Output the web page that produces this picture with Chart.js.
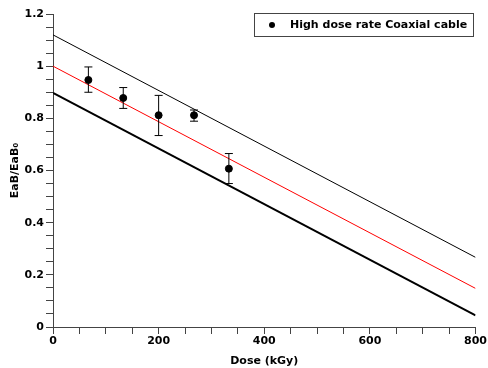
<!DOCTYPE html>
<html>
<head>
<meta charset="utf-8">
<script src="https://cdn.jsdelivr.net/npm/chart.js@4/dist/chart.umd.min.js"></script>
<style>
html,body{margin:0;padding:0;background:#fff;}
#wrap{width:488px;height:368px;}
</style>
</head>
<body>
<div id="wrap"><canvas id="c" width="488" height="368"></canvas></div>
<script>
// Data
const doses = [67, 133, 200, 267, 333];
const ratio = [0.947, 0.878, 0.812, 0.812, 0.607];
const errLow = [0.900, 0.838, 0.734, 0.789, 0.550];
const errHigh = [0.997, 0.918, 0.888, 0.832, 0.665];
const lineX = [0, 800];
const fitLine = [1.0, 0.148];
const upperLine = [1.12, 0.267];
const lowerLine = [0.898, 0.045];
const seriesLabel = 'High dose rate Coaxial cable';
const xTitle = 'Dose (kGy)';
const yTitle = 'EaB/EaB\u2080';

const FONT = "'DejaVu Sans', Verdana, sans-serif";

const pts = doses.map((d, i) => ({x: d, y: ratio[i]}));
const mk = (ys) => lineX.map((x, i) => ({x: x, y: ys[i]}));

const errorBars = {
  id: 'errorBars',
  afterDatasetsDraw(chart) {
    const {ctx, scales: {x, y}} = chart;
    ctx.save();
    ctx.strokeStyle = '#000';
    ctx.lineWidth = 1;
    doses.forEach((d, i) => {
      const px = x.getPixelForValue(d);
      const pl = y.getPixelForValue(errLow[i]);
      const ph = y.getPixelForValue(errHigh[i]);
      ctx.beginPath();
      ctx.moveTo(px, pl); ctx.lineTo(px, ph);
      ctx.moveTo(px - 4, pl); ctx.lineTo(px + 4, pl);
      ctx.moveTo(px - 4, ph); ctx.lineTo(px + 4, ph);
      ctx.stroke();
    });
    ctx.restore();
  }
};

const legendBox = {
  id: 'legendBox',
  afterDraw(chart) {
    const ctx = chart.ctx;
    ctx.save();
    ctx.fillStyle = '#fff';
    ctx.fillRect(254.5, 13.5, 219, 23);
    ctx.strokeStyle = '#444';
    ctx.lineWidth = 1;
    ctx.strokeRect(254.5, 13.5, 219, 23);
    ctx.fillStyle = '#000';
    ctx.beginPath();
    ctx.arc(272, 25, 3, 0, Math.PI * 2);
    ctx.fill();
    ctx.font = 'bold 11px ' + FONT;
    ctx.textBaseline = 'middle';
    ctx.textAlign = 'left';
    ctx.fillText(seriesLabel, 290, 25.5);
    ctx.restore();
  }
};

new Chart(document.getElementById('c'), {
  type: 'scatter',
  data: {
    datasets: [
      {label: seriesLabel, data: pts, backgroundColor: '#000', borderColor: '#000', pointRadius: 3.5, pointHoverRadius: 3.5, order: 0},
      {type: 'line', label: 'fit', data: mk(fitLine), borderColor: '#ff0000', borderWidth: 1, pointRadius: 0, fill: false, order: 1},
      {type: 'line', label: 'upper', data: mk(upperLine), borderColor: '#000', borderWidth: 1, pointRadius: 0, fill: false, order: 2},
      {type: 'line', label: 'lower', data: mk(lowerLine), borderColor: '#000', borderWidth: 2, pointRadius: 0, fill: false, order: 3}
    ]
  },
  options: {
    responsive: false,
    animation: false,
    events: [],
    layout: {padding: {top: 14, right: 11, left: 0, bottom: 0}},
    plugins: {legend: {display: false}, tooltip: {enabled: false}},
    scales: {
      x: {
        type: 'linear', min: 0, max: 800,
        afterFit(s) { s.height = 41; },
        border: {display: true, color: '#444', width: 1},
        grid: {display: true, drawOnChartArea: false, drawTicks: true, tickLength: 7, color: '#444'},
        ticks: {
          stepSize: 50, autoSkip: false, maxRotation: 0, padding: 1, color: '#000',
          font: {family: FONT, size: 11, weight: 'bold'},
          callback: (v) => (Math.round(v) % 200 === 0 ? String(v) : '')
        },
        title: {display: true, text: xTitle, color: '#000', padding: {top: 0, bottom: 0}, font: {family: FONT, size: 11, weight: 'bold'}}
      },
      y: {
        type: 'linear', min: 0, max: 1.2,
        afterFit(s) { s.width = 53; },
        border: {display: true, color: '#444', width: 1},
        grid: {display: true, drawOnChartArea: false, drawTicks: true, tickLength: 7, color: '#444'},
        ticks: {
          stepSize: 0.05, autoSkip: false, padding: 2, color: '#000',
          font: {family: FONT, size: 11, weight: 'bold'},
          callback: (v) => {
            const r = Math.round(v * 100);
            return r % 20 === 0 ? String(+(r / 100).toFixed(1)) : '';
          }
        },
        title: {display: true, text: yTitle, color: '#000', padding: {top: 9, bottom: 0}, font: {family: FONT, size: 11, weight: 'bold'}}
      }
    }
  },
  plugins: [errorBars, legendBox]
});
</script>
</body>
</html>
